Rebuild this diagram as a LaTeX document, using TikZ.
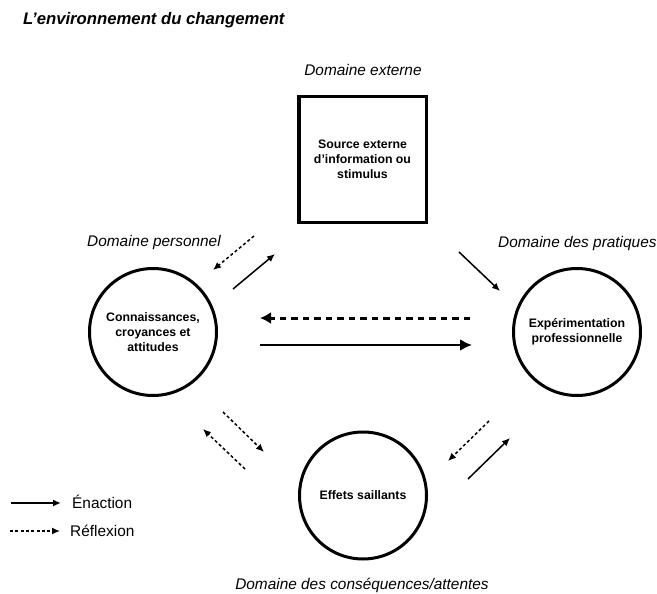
\documentclass[tikz,border=0pt]{standalone}
\usepackage{fontspec}
\setmainfont{Liberation Sans}
\usetikzlibrary{arrows.meta}
\begin{document}
\begin{tikzpicture}[x=1pt,y=-1pt,
  domlabel/.style={font=\fontsize{15.4}{18}\selectfont\itshape, inner sep=0pt},
  legendtext/.style={font=\fontsize{15.4}{18}\selectfont, inner sep=0pt, anchor=base west},
  titletext/.style={font=\fontsize{16.7}{20}\selectfont\bfseries\itshape, inner sep=0pt, anchor=base west},
  content/.style={font=\fontsize{12.3}{15}\selectfont\bfseries, align=center, inner sep=0pt},
  srcbox/.style={draw, line width=3.5pt, minimum width=127.5pt, minimum height=125.5pt, content},
  domcircle/.style={draw, circle, line width=3pt, minimum size=127pt, content},
  enact/.style={line width=1.5pt, -{Latex[length=8pt,width=7pt]}},
  reflect/.style={line width=1.5pt, dash pattern=on 3pt off 2.5pt, -{Latex[length=8pt,width=7pt]}},
  bigenact/.style={line width=2.8pt, -{Latex[length=12pt,width=12pt]}},
  bigreflect/.style={line width=3pt, dash pattern=on 6.5pt off 5pt, -{Latex[length=11pt,width=12pt]}},
  legenact/.style={line width=1.6pt, -{Latex[length=8pt,width=7pt]}},
  legreflect/.style={line width=1.4pt, dash pattern=on 3pt off 2.3pt, -{Latex[length=8pt,width=7pt]}}
]
\useasboundingbox (0,0) rectangle (657,594);

% title
\node[titletext] (title) at (23,25) {L’environnement du changement};

% domain labels
\node[domlabel, anchor=base] (dext) at (363,76) {Domaine externe};
\node[domlabel, anchor=base west] (dpers) at (87,246) {Domaine personnel};
\node[domlabel, anchor=base west] (dprat) at (498,247) {Domaine des pratiques};
\node[domlabel, anchor=base] (dcons) at (362,589) {Domaine des conséquences/attentes};

% main shapes
\node[srcbox] (src) at (362.5,159.5) {Source externe\\d’information ou\\stimulus};
\node[domcircle] (pers) at (153,332) {Connaissances,\\croyances et\\attitudes};
\node[domcircle] (prat) at (577,332) {Expérimentation\\professionnelle};
\node[domcircle] (eff) at (363,495.5) {Effets saillants};

% arrow endpoints
\coordinate (hdS) at (470,318); \coordinate (hdE) at (260,318);
\coordinate (hsS) at (260,345); \coordinate (hsE) at (472,345);
\coordinate (ulDS) at (254,236); \coordinate (ulDE) at (213,270);
\coordinate (ulSS) at (233,289); \coordinate (ulSE) at (275,254);
\coordinate (urSS) at (459,252); \coordinate (urSE) at (500,291);
\coordinate (llDS) at (223,412); \coordinate (llDE) at (264,452);
\coordinate (llRS) at (245,469); \coordinate (llRE) at (203,429);
\coordinate (lrDS) at (489,421); \coordinate (lrDE) at (448,461);
\coordinate (lrSS) at (468,479); \coordinate (lrSE) at (510,438);

% arrows
\draw[bigreflect] (hdS) -- (hdE);
\draw[bigenact] (hsS) -- (hsE);
\draw[reflect] (ulDS) -- (ulDE);
\draw[enact] (ulSS) -- (ulSE);
\draw[enact] (urSS) -- (urSE);
\draw[reflect] (llDS) -- (llDE);
\draw[reflect] (llRS) -- (llRE);
\draw[reflect] (lrDS) -- (lrDE);
\draw[enact] (lrSS) -- (lrSE);

% legend
\coordinate (le1S) at (11,503); \coordinate (le1E) at (61,503);
\coordinate (le2S) at (10,531); \coordinate (le2E) at (60,531);
\draw[legenact] (le1S) -- (le1E);
\draw[legreflect] (le2S) -- (le2E);
\node[legendtext] (lenact) at (72,508.5) {Énaction};
\node[legendtext] (lrefl) at (70,536.5) {Réflexion};
\end{tikzpicture}
\end{document}
